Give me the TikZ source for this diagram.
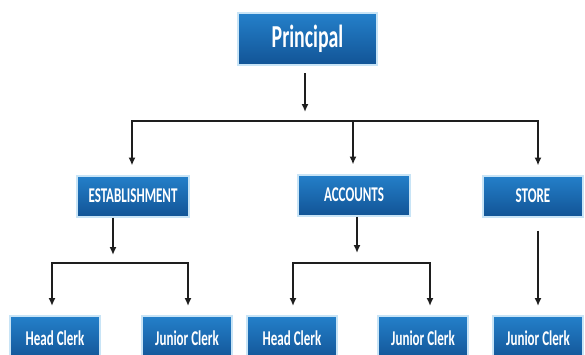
\documentclass[tikz,border=0pt]{standalone}
\usepackage{fontspec}
\usepackage{xcolor}
\usetikzlibrary{arrows.meta}
\newfontfamily\boxfont[FakeStretch=0.62]{Carlito}
\definecolor{boxtop}{RGB}{36, 128, 202}
\definecolor{boxbottom}{RGB}{18, 84, 150}
\definecolor{boxglow}{RGB}{200, 228, 246}
\definecolor{linegray}{RGB}{30, 30, 30}

\begin{document}
\begin{tikzpicture}[
  x=1pt, y=-1pt,
  post/.style={
    top color=boxtop,
    bottom color=boxbottom,
    draw=boxglow,
    line width=2pt,
    text=white,
    inner sep=0pt,
    align=center,
    font=\boxfont\bfseries\fontsize{21}{23}\selectfont,
  },
  dept/.style={
    post,
    minimum height=41pt,
  },
  clerk/.style={
    post,
    minimum width=90pt,
    minimum height=44pt,
  },
  link/.style={
    draw=linegray,
    line width=1.7pt,
    -{Latex[length=8pt,width=7pt]},
    shorten >=9pt,
  },
  bar/.style={
    draw=linegray,
    line width=2.2pt,
    line cap=rect,
  }
]
  \clip (0,0) rectangle (585,354);

  % === TOP: principal ===
  \node[post, minimum width=139pt, minimum height=52pt,
        font=\boxfont\bfseries\fontsize{32}{34}\selectfont] (prin) at (307.5,39) {Principal};

  % === MIDDLE: departments ===
  \node[dept, minimum width=112pt] (est) at (133,196) {ESTABLISHMENT};
  \node[dept, minimum width=112pt] (acc) at (354,195) {ACCOUNTS};
  \node[dept, minimum width=100pt] (store) at (533,196) {STORE};

  % === BOTTOM: clerks ===
  \node[clerk] (hc-est) at (55,338) {Head Clerk};
  \node[clerk] (jc-est) at (187,338) {Junior Clerk};
  \node[clerk] (hc-acc) at (292,338) {Head Clerk};
  \node[clerk] (jc-acc) at (423,338) {Junior Clerk};
  \node[clerk] (jc-store) at (538,338) {Junior Clerk};

  % bar below the principal
  \coordinate (top-l) at (132,121);
  \coordinate (top-r) at (538,121);
  \draw[link, shorten <=7pt] ([xshift=-2.5pt]prin.south) -- ([xshift=-2.5pt]prin.south |- top-l);
  \draw[bar] (top-l) -- (top-r);
  \draw[link] (top-l) -- (est.north -| top-l);
  \draw[link] ([xshift=-1pt]acc.north |- top-l) -- ([xshift=-1pt]acc.north);
  \draw[link] (top-r) -- (store.north -| top-r);

  % establishment branch
  \coordinate (est-l) at (52,263);
  \coordinate (est-r) at (188,263);
  \draw[link, shorten >=8pt] ([xshift=-20pt]est.south) -- ([xshift=-20pt]est.south |- est-l);
  \draw[bar] (est-l) -- (est-r);
  \draw[link] (est-l) -- (hc-est.north -| est-l);
  \draw[link] (est-r) -- (jc-est.north -| est-r);

  % accounts branch
  \coordinate (acc-l) at (293,263);
  \coordinate (acc-r) at (430,263);
  \draw[link, shorten >=10pt] ([xshift=3pt]acc.south) -- ([xshift=3pt]acc.south |- acc-l);
  \draw[bar] (acc-l) -- (acc-r);
  \draw[link] (acc-l) -- (hc-acc.north -| acc-l);
  \draw[link] (acc-r) -- (jc-acc.north -| acc-r);

  % store branch
  \draw[link, shorten <=13pt] (store.south -| top-r) -- (jc-store.north);

\end{tikzpicture}
\end{document}
